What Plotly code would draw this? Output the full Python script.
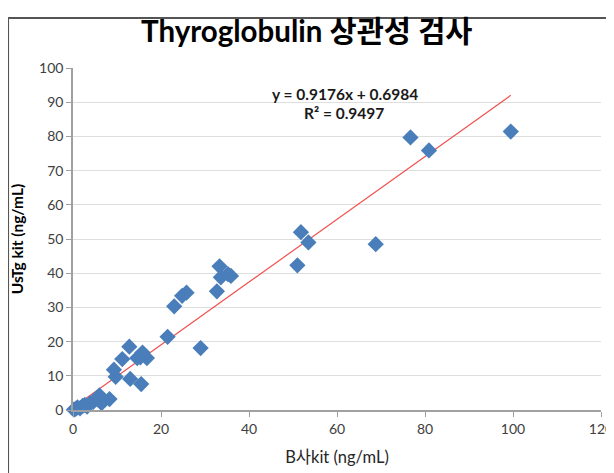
import plotly.graph_objects as go

# Data
b_kit = [0.2, 0.6, 1.0, 1.6, 2.2, 2.7, 3.2, 3.9, 4.6, 6.0, 6.5, 8.3, 6.1,
         9.3, 9.7, 13.0, 15.5, 11.2, 12.8, 14.6, 15.3, 15.8, 16.8,
         21.5, 23.0, 24.8, 25.8, 29.0, 32.7, 33.3, 33.6, 35.2, 35.9,
         51.0, 51.8, 53.5, 68.8, 76.7, 80.9, 99.5]
ustg_kit = [0.1, 0.3, 0.8, 0.5, 1.2, 1.5, 1.0, 2.0, 2.4, 4.3, 2.0, 3.2, 3.7,
            11.8, 9.7, 9.1, 7.6, 14.9, 18.5, 15.2, 15.4, 16.8, 15.2,
            21.4, 30.3, 33.4, 34.3, 18.1, 34.7, 42.0, 38.8, 39.7, 39.2,
            42.3, 52.0, 49.0, 48.5, 79.7, 75.9, 81.4]

slope = 0.9176
intercept = 0.6984
r2 = 0.9497

trend_x = [min(b_kit), max(b_kit)]
trend_y = [slope * v + intercept for v in trend_x]

x_ticks = [0, 20, 40, 60, 80, 100, 120]
y_ticks = [0, 10, 20, 30, 40, 50, 60, 70, 80, 90, 100]

FONT = "Lato, 'Noto Sans CJK KR', sans-serif"

H = 465

fig = go.Figure()
fig.add_trace(go.Scatter(
    x=trend_x, y=trend_y, mode="lines",
    line=dict(color="rgb(240,80,80)", width=1.2),
    hoverinfo="skip", showlegend=False))
fig.add_trace(go.Scatter(
    x=b_kit, y=ustg_kit, mode="markers",
    marker=dict(symbol="diamond", size=12.5, color="#4a7ebb"),
    cliponaxis=False, showlegend=False))

fig.add_annotation(x=61.8, y=92.4, xref="x", yref="y",
                   text="<b>y = 0.9176x + 0.6984</b>", showarrow=False,
                   font=dict(family=FONT, size=15.5, color="#1a1a1a"))
fig.add_annotation(x=61.5, y=86.9, xref="x", yref="y",
                   text="<b>R² = 0.9497</b>", showarrow=False,
                   font=dict(family=FONT, size=15.5, color="#1a1a1a"))

# outer chart frame (left and top edges visible)
fig.add_shape(type="line", xref="paper", yref="paper",
              x0=-0.123, x1=-0.123, y0=-0.3, y1=1.146,
              line=dict(color="#555555", width=2))
fig.add_shape(type="line", xref="paper", yref="paper",
              x0=-0.123, x1=1.1, y0=1.146, y1=1.146,
              line=dict(color="#555555", width=2))

# page body has an 8px margin, so the figure is sized/offset to compensate
fig.update_layout(
    width=606, height=H,
    margin=dict(l=65, r=13, t=60, b=H - 402),
    paper_bgcolor="white", plot_bgcolor="white",
    font=dict(family=FONT, color="#404040", size=14),
    title=dict(text="<b>Thyroglobulin 상관성 검사</b>", x=0.493, xanchor="center",
               xref="container",
               y=1 - 24 / H, yanchor="middle",
               font=dict(family=FONT, size=29.5, color="#000000")),
    xaxis=dict(range=[0, 120], tickvals=x_ticks, ticktext=[str(v) for v in x_ticks],
               automargin=False,
               showgrid=False, zeroline=False, showline=True,
               linecolor="#a0a0a0", linewidth=1.5,
               ticks="outside", ticklen=5, tickcolor="#a0a0a0",
               tickfont=dict(size=14, color="#404040"),
               title=dict(text="B사kit (ng/mL)", standoff=16,
                          font=dict(size=16.5, color="#262626"))),
    yaxis=dict(range=[0, 100], tickvals=y_ticks, ticktext=[str(v) for v in y_ticks],
               automargin=False,
               showgrid=True, gridcolor="#dedede", gridwidth=1,
               zeroline=False, showline=True,
               linecolor="#a0a0a0", linewidth=1.5,
               ticks="outside", ticklen=5, tickcolor="#a0a0a0",
               tickfont=dict(size=14, color="#404040"),
               title=dict(text="<b>UsTg kit (ng/mL)</b>", standoff=12,
                          font=dict(size=15.5, color="#000000"))),
)

fig.write_html("out.html")
